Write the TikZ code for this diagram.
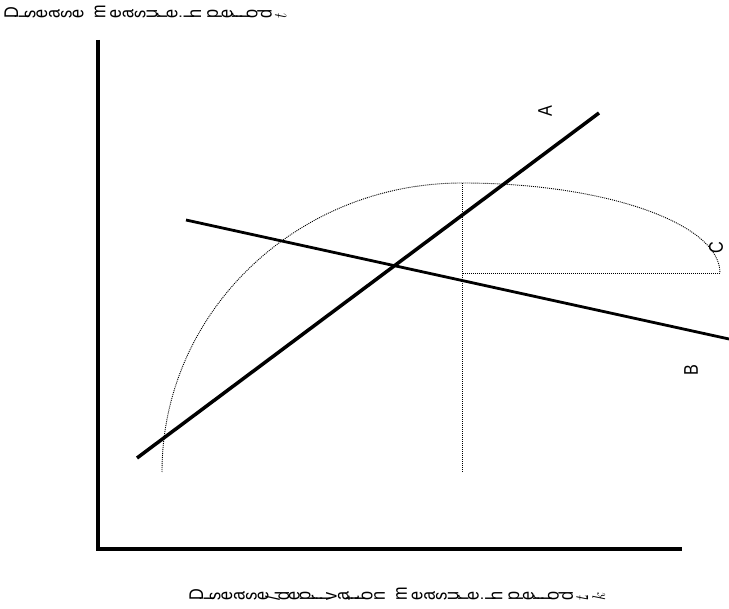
\documentclass[tikz,border=0pt]{standalone}
\usepackage{fontspec}
\setmainfont{Liberation Sans}
\usepackage{graphicx}

% each glyph is printed turned a quarter to the left, squashed a bit
\newlength\gw
\newcommand\rotglyph[1]{\settowidth\gw{#1}\makebox[\gw][c]{\scalebox{0.88}[0.72]{\rotatebox{90}{#1}}}}
\def\rotw#1{\ifx\relax#1\else\rotglyph{#1}\expandafter\rotw\fi}
\newcommand\rotword[1]{\rotw#1\relax}

\tikzset{
  axisline/.style={line width=3.5pt},
  fitline/.style={line width=3pt},
  dotline/.style={line width=0.9pt, dash pattern=on 1pt off 1pt, black},
  lbl/.style={inner sep=0pt, font=\fontsize{22.5}{25}\selectfont}
}

\begin{document}
\begin{tikzpicture}[x=1pt,y=-1pt]
    \path[use as bounding box] (0,0) rectangle (729,609);

    % axes
    \coordinate (ytop) at (98,40);
    \coordinate (origin) at (98,549);
    \coordinate (xend) at (682,549);
    \draw[axisline] (ytop) -- (origin) -- (xend);

    % dotted curve C
    \coordinate (cstart) at (162,472);
    \coordinate (ctop) at (462,183);
    \coordinate (cend) at (720,273);
    \coordinate (cfoot) at (462,472);
    \coordinate (cmid) at (462,273);
    \draw[dotline] (cstart) .. controls (162,312.4) and (296.3,183) .. (ctop)
        .. controls (604.5,183) and (720,223.3) .. (cend);
    \draw[dotline] (cend) -- (cmid);
    \draw[dotline] (ctop) -- (cfoot);

    % line A
    \coordinate (a1) at (137,458);
    \coordinate (a2) at (599,113);
    \draw[fitline, line width=3.5pt] (a1) -- (a2);

    % line B
    \coordinate (b1) at (186,220);
    \coordinate (b2) at (729,339);
    \draw[fitline, line width=2.8pt] (b1) -- (b2);

    % labels
    \node[lbl] (labA) at (545,111) {\rotglyph{A}};
    \node[lbl] (labB) at (691,370) {\rotglyph{B}};
    \node[lbl] (labC) at (716,248) {\rotglyph{C}};

    \node[lbl, anchor=base west] (ylab) at (3,19)
        {\rotword{Disease}\ \rotword{measure}\ \rotword{in}\ \rotword{period}\ \rotglyph{$t$}};
    \node[lbl, anchor=base west] (xlab) at (188,601)
        {\rotword{Disease/deprivation}\ \rotword{measure}\ \rotword{in}\ \rotword{period}\ \rotglyph{$t$}\rotglyph{-}\rotglyph{$k$}};
\end{tikzpicture}
\end{document}
